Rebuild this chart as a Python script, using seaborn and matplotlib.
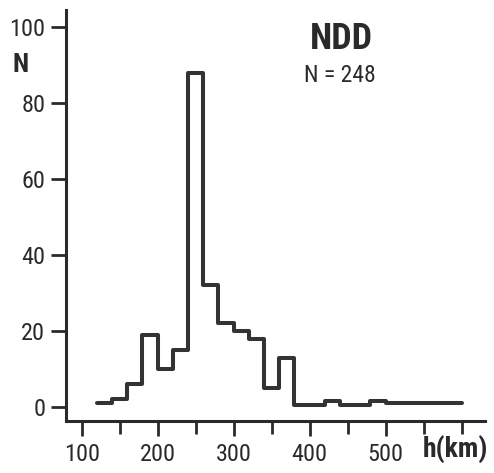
import numpy as np
import pandas as pd
import matplotlib
matplotlib.use("Agg")
import matplotlib.pyplot as plt
import seaborn as sns
from matplotlib import font_manager as fm

# ---- data ----
bin_left = [120, 140, 160, 180, 200, 220, 240, 260, 280, 300, 320, 340, 360,
            380, 400, 420, 440, 460, 480, 500, 520, 540, 560, 580]
counts = [1, 2, 6, 19, 10, 15, 88, 32, 22, 20, 18, 5, 13,
          0.6, 0.6, 1.7, 0.6, 0.6, 1.7, 1, 1, 1, 1, 1]
bin_width = 20
x_ticks = [100, 200, 300, 400, 500]
x_minor = [150, 250, 350, 450, 550, 600]
y_ticks = [0, 20, 40, 60, 80, 100]
title = "NDD"
subtitle = "N = 248"
x_label = "h(km)"
y_label = "N"

sns.set_theme(style="white")
installed = {f.name for f in fm.fontManager.ttflist}
prefs = ["Roboto Condensed", "Archivo Narrow", "Liberation Sans Narrow",
         "Barlow Condensed", "Fira Sans Condensed", "DejaVu Sans"]
fams = [p for p in prefs if p in installed] + ["DejaVu Sans"]
plt.rcParams["font.family"] = fams

df = pd.DataFrame({"h": np.array(bin_left) + bin_width / 2, "n": counts})
edges = list(bin_left) + [bin_left[-1] + bin_width]

ink = "#2a2a2a"
fig = plt.figure(figsize=(4.94, 4.73), dpi=100)
ax = fig.add_axes([0.1336, 0.1106, 0.9818 - 0.1336, 0.9789 - 0.1106])
sns.histplot(data=df, x="h", weights="n", bins=edges, element="step", fill=False,
             color="#333333", linewidth=2.9, ax=ax)

ax.set_xlim(79.4, 630.7)
ax.set_ylim(-3.6, 104.5)
ax.set_xticks(x_ticks)
ax.set_xticks(x_minor, minor=True)
ax.set_yticks(y_ticks)
ax.set_xticklabels([str(t) for t in x_ticks])
ax.set_yticklabels([str(t) for t in y_ticks])
ax.set_xlabel("")
ax.set_ylabel("")
for s in ["top", "right"]:
    ax.spines[s].set_visible(False)
for s in ["left", "bottom"]:
    ax.spines[s].set_linewidth(2.2)
    ax.spines[s].set_color(ink)
ax.tick_params(axis="both", which="both", direction="out", color=ink, width=2.0,
               bottom=True, left=True)
ax.tick_params(axis="x", which="major", length=11, pad=5, labelsize=17.5, labelcolor=ink)
ax.tick_params(axis="x", which="minor", length=9)
ax.tick_params(axis="y", which="major", length=11, pad=4, labelsize=17.5, labelcolor=ink)

fig.text(21 / 494, 1 - 65 / 473, y_label, ha="center", va="center", fontsize=19,
         fontweight="bold", color=ink)
fig.text(341 / 494, 1 - 39 / 473, title, ha="center", va="center", fontsize=26,
         fontweight="bold", color=ink)
fig.text(340 / 494, 1 - 75 / 473, subtitle, ha="center", va="center", fontsize=17,
         color=ink)
fig.text(455 / 494, 1 - 457 / 473, x_label, ha="center", va="baseline", fontsize=20,
         fontweight="bold", color=ink)

fig.savefig("out.png", dpi=100)
